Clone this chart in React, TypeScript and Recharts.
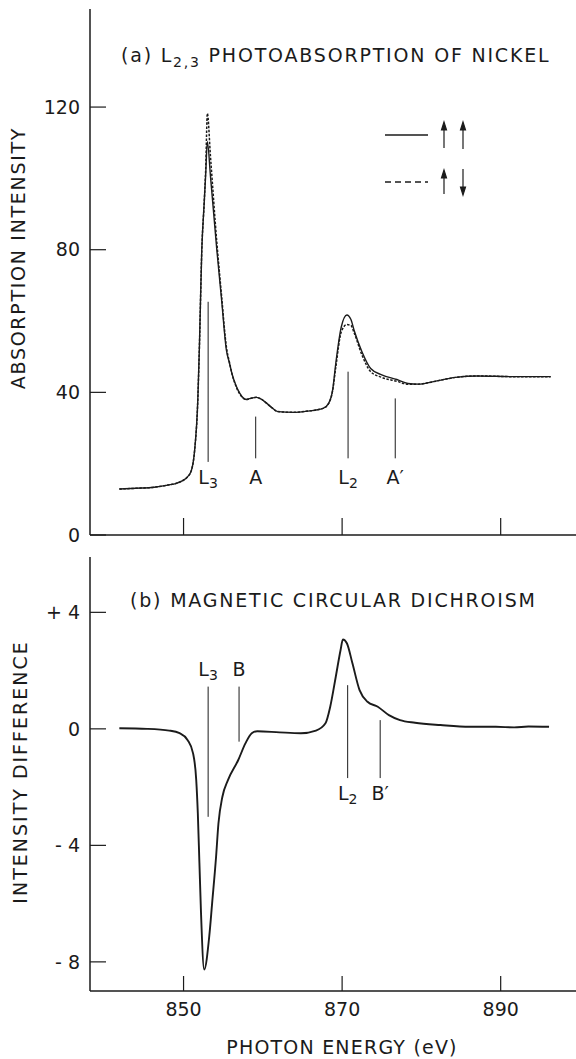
import React from "react";
import {
  LineChart,
  Line,
  XAxis,
  YAxis,
  ReferenceLine,
  ReferenceDot,
  Legend,
} from "recharts";

const INK = "#1b1b1b";
const FONT = "'DejaVu Sans', sans-serif";

// (a) L2,3 photoabsorption, parallel (solid) and antiparallel (dotted)
const energyA = [
  841.9, 844, 846.3, 848, 849.1, 850.0, 850.5, 851.0, 851.4, 851.8, 852.0, 852.3,
  852.6, 852.8, 853.0, 853.4, 854.2, 854.8, 855.4, 855.8, 856.1, 856.6, 857.1,
  857.9, 858.6, 859.2, 859.8, 860.5, 861.2, 861.9, 863.9, 865.5, 867.6, 868.3,
  868.8, 869.2, 869.9, 870.6, 871.1, 871.5, 872.5, 873.6, 875.0, 876.9, 878.3,
  879.6, 881.5, 884.3, 887.1, 891.7, 896.3,
];
const parallelA = [
  12.9, 13.1, 13.4, 14.0, 14.5, 15.4, 16.3, 18.2, 23.8, 38.0, 52.8, 79.9, 93.0,
  101.5, 110.3, 100.5, 79.9, 65.9, 51.9, 48.1, 45.3, 42.0, 39.7, 38.0, 38.4, 38.6,
  38.1, 36.9, 35.6, 34.6, 34.4, 34.7, 35.5, 36.9, 40.6, 48.1, 58.4, 61.7, 60.5,
  57.5, 51.4, 46.7, 44.9, 43.6, 42.5, 42.3, 43.0, 44.2, 44.6, 44.4, 44.4,
];
const antiA = [
  12.9, 13.1, 13.4, 14.0, 14.5, 15.4, 16.3, 18.2, 23.8, 38.0, 52.8, 79.9, 93.0,
  103.0, 118.2, 106.0, 82.0, 67.0, 52.8, 48.3, 45.3, 41.8, 39.5, 38.0, 38.4, 38.6,
  38.1, 36.9, 35.6, 34.6, 34.4, 34.7, 35.5, 36.9, 40.4, 47.0, 57.0, 59.0, 58.8,
  56.8, 50.5, 45.8, 44.2, 43.1, 42.3, 42.3, 43.0, 44.2, 44.6, 44.4, 44.4,
];

// (b) magnetic circular dichroism
const energyB = [
  841.9, 845.4, 848.2, 849.5, 850.5, 851.2, 851.6, 851.8, 852.0, 852.2, 852.6,
  853.25, 853.6, 854.1, 854.4, 854.9, 855.6, 856.9, 857.8, 858.6, 859.3, 862.1,
  864.8, 866.7, 867.9, 868.5, 869.2, 869.8, 870.1, 870.6, 871.3, 872.2, 873.2,
  874.5, 875.9, 877.3, 879.2, 882.4, 886.1, 889.4, 891.7, 893.5, 896.1,
];
const dichroB = [
  0.02, 0, -0.06, -0.15, -0.38, -0.84, -1.76, -2.9, -4.6, -6.3, -8.26, -7.1, -6.0,
  -4.4, -3.25, -2.33, -1.76, -1.07, -0.5, -0.15, -0.08, -0.12, -0.15, -0.06, 0.19,
  0.76, 1.79, 2.7, 3.07, 2.94, 2.25, 1.33, 0.93, 0.76, 0.47, 0.3, 0.21, 0.13, 0.07,
  0.07, 0.05, 0.08, 0.07,
];

const ticksX = [850, 870, 890];
const ticksA = [0, 40, 80, 120];
const ticksB = [-8, -4, 0, 4];

// marker lines and their letters
const markAText = ["L", "A", "L", "A\u2032"];
const markASub = ["3", "", "2", ""];
const markAX = [853.1, 859.1, 870.75, 876.7];
const markATop = [65.4, 33.2, 45.8, 38.3];
const markABottom = [20.5, 21.5, 21.5, 21.5];
const markALabelY = [16.3, 16.3, 16.3, 16.3];

const markBText = ["L", "B", "L", "B\u2032"];
const markBSub = ["3", "", "2", ""];
const markBX = [853.1, 857.0, 870.7, 874.8];
const markBTop = [1.45, 1.45, 1.5, 0.3];
const markBBottom = [-3.02, -0.44, -1.69, -1.69];
const markBLabelY = [2.05, 2.05, -2.2, -2.2];

const dataA = energyA.map((e, i) => ({ e, par: parallelA[i], anti: antiA[i] }));
const dataB = energyB.map((e, i) => ({ e, mcd: dichroB[i] }));

const X_DOMAIN: [number, number] = [838.2, 899.5];

const textStyle = { fontFamily: FONT, fill: INK, fontSize: 19 };

function markLabel(main: string, sub: string) {
  return (props: any) => {
    const vb = props.viewBox || {};
    const cx = vb.x + (vb.width || 0) / 2;
    const cy = vb.y + (vb.height || 0) / 2;
    return (
      <text x={cx} y={cy + 7} textAnchor="middle" {...textStyle}>
        {main}
        {sub && (
          <tspan fontSize={14} dy={4}>
            {sub}
          </tspan>
        )}
      </text>
    );
  };
}

function LegendGlyphs() {
  return (
    <svg width={100} height={95}>
      <line x1={5} y1={17} x2={48} y2={17} stroke={INK} strokeWidth={1.5} />
      <line x1={5} y1={64} x2={48} y2={64} stroke={INK} strokeWidth={1.5} strokeDasharray="6 4" />
      <g stroke={INK} strokeWidth={1.2} fill={INK}>
        <line x1={64} y1={10} x2={64} y2={30} />
        <path d="M64 4 L61.5 12 L66.5 12 Z" />
        <line x1={83} y1={10} x2={83} y2={31} />
        <path d="M83 4 L80.5 12 L85.5 12 Z" />
        <line x1={64} y1={58} x2={64} y2={76} />
        <path d="M64 52 L61.5 60 L66.5 60 Z" />
        <line x1={83} y1={51} x2={83} y2={70} />
        <path d="M83 77 L80.5 69 L85.5 69 Z" />
      </g>
    </svg>
  );
}

export default function App() {
  return (
    <div
      style={{
        position: "absolute",
        left: 0,
        top: 0,
        width: 576,
        height: 1059,
        background: "#fff",
        overflow: "hidden",
        fontFamily: FONT,
      }}
    >
      <div style={{ position: "relative", width: 576, height: 545 }}>
        <LineChart
          width={576}
          height={545}
          data={dataA}
          margin={{ top: 9, right: 0, bottom: 0, left: 0 }}
        >
          <XAxis
            dataKey="e"
            type="number"
            domain={X_DOMAIN}
            ticks={ticksX}
            interval={0}
            allowDataOverflow
            tick={textStyle}
            tickFormatter={() => ""}
            tickSize={-17}
            height={10}
            axisLine={{ stroke: INK, strokeWidth: 1.5 }}
            tickLine={{ stroke: INK, strokeWidth: 1.2 }}
          />
          <XAxis
            xAxisId="top"
            orientation="top"
            type="number"
            domain={X_DOMAIN}
            tick={false}
            tickLine={false}
            height={0}
            axisLine={{ stroke: INK, strokeWidth: 1.5 }}
          />
          <YAxis
            type="number"
            domain={[0, 147.5]}
            ticks={ticksA}
            interval={0}
            allowDataOverflow
            width={90}
            tickSize={-16}
            tickMargin={26}
            tick={textStyle}
            axisLine={{ stroke: INK, strokeWidth: 1.5 }}
            tickLine={{ stroke: INK, strokeWidth: 1.2 }}
            label={{
              content: () => (
                <text
                  x={25}
                  y={258}
                  textAnchor="middle"
                  transform="rotate(-90 25 258)"
                  letterSpacing={1.7}
                  {...textStyle}
                >
                  ABSORPTION INTENSITY
                </text>
              ),
            }}
          />
          <Legend
            layout="horizontal"
            verticalAlign="middle"
            align="center"
            content={() => <LegendGlyphs />}
            wrapperStyle={{ position: "absolute", left: 380, top: 118, width: 100, height: 95 }}
          />
          {markAX.map((x, i) => (
            <ReferenceLine
              key={"la" + i}
              segment={[
                { x, y: markABottom[i] },
                { x, y: markATop[i] },
              ]}
              stroke={INK}
              strokeWidth={1}
            />
          ))}
          {markAX.map((x, i) => (
            <ReferenceDot
              key={"ta" + i}
              x={x}
              y={markALabelY[i]}
              r={1}
              fill="none"
              stroke="none"
              label={{ content: markLabel(markAText[i], markASub[i]) }}
            />
          ))}
          <Line
            dataKey="anti"
            type="monotone"
            stroke={INK}
            strokeWidth={1.5}
            strokeDasharray="2.5 1.5"
            dot={false}
            isAnimationActive={false}
          />
          <Line
            dataKey="par"
            type="monotone"
            stroke={INK}
            strokeWidth={1.4}
            dot={false}
            isAnimationActive={false}
          />
        </LineChart>
        <div
          style={{
            position: "absolute",
            left: 121,
            top: 46,
            fontSize: 19,
            lineHeight: "19px",
            letterSpacing: 1.8,
            color: INK,
            whiteSpace: "nowrap",
          }}
        >
          (a) L<span style={{ fontSize: 14, position: "relative", top: 5 }}>2,3</span>{" "}
          PHOTOABSORPTION OF NICKEL
        </div>
      </div>
      <div style={{ position: "relative", width: 576, height: 514 }}>
        <LineChart
          width={576}
          height={514}
          data={dataB}
          margin={{ top: 12, right: 0, bottom: 0, left: 0 }}
        >
          <XAxis
            dataKey="e"
            type="number"
            domain={X_DOMAIN}
            ticks={ticksX}
            interval={0}
            allowDataOverflow
            tickSize={-15}
            tickMargin={27}
            height={68}
            tick={textStyle}
            axisLine={{ stroke: INK, strokeWidth: 1.5 }}
            tickLine={{ stroke: INK, strokeWidth: 1.2 }}
            label={{
              content: () => (
                <text x={342} y={509} textAnchor="middle" letterSpacing={1.2} {...textStyle}>
                  PHOTON ENERGY (eV)
                </text>
              ),
            }}
          />
          <XAxis
            xAxisId="top"
            orientation="top"
            type="number"
            domain={X_DOMAIN}
            tick={false}
            tickLine={false}
            height={0}
            axisLine={{ stroke: INK, strokeWidth: 1.5 }}
          />
          <YAxis
            type="number"
            domain={[-9, 5.9]}
            ticks={ticksB}
            interval={0}
            allowDataOverflow
            width={90}
            tickSize={-16}
            tickMargin={26}
            tick={textStyle}
            tickFormatter={(v: number) => (v > 0 ? "+ " + v : v < 0 ? "- " + -v : "0")}
            axisLine={{ stroke: INK, strokeWidth: 1.5 }}
            tickLine={{ stroke: INK, strokeWidth: 1.2 }}
            label={{
              content: () => (
                <text
                  x={27}
                  y={227}
                  textAnchor="middle"
                  transform="rotate(-90 27 227)"
                  letterSpacing={2}
                  {...textStyle}
                >
                  INTENSITY DIFFERENCE
                </text>
              ),
            }}
          />
          {markBX.map((x, i) => (
            <ReferenceLine
              key={"lb" + i}
              segment={[
                { x, y: markBBottom[i] },
                { x, y: markBTop[i] },
              ]}
              stroke={INK}
              strokeWidth={1}
            />
          ))}
          {markBX.map((x, i) => (
            <ReferenceDot
              key={"tb" + i}
              x={x}
              y={markBLabelY[i]}
              r={1}
              fill="none"
              stroke="none"
              label={{ content: markLabel(markBText[i], markBSub[i]) }}
            />
          ))}
          <Line
            dataKey="mcd"
            type="monotone"
            stroke={INK}
            strokeWidth={1.9}
            dot={false}
            isAnimationActive={false}
          />
        </LineChart>
        <div
          style={{
            position: "absolute",
            left: 130,
            top: 46,
            fontSize: 19,
            lineHeight: "19px",
            letterSpacing: 1.8,
            color: INK,
            whiteSpace: "nowrap",
          }}
        >
          (b) MAGNETIC CIRCULAR DICHROISM
        </div>
      </div>
    </div>
  );
}
